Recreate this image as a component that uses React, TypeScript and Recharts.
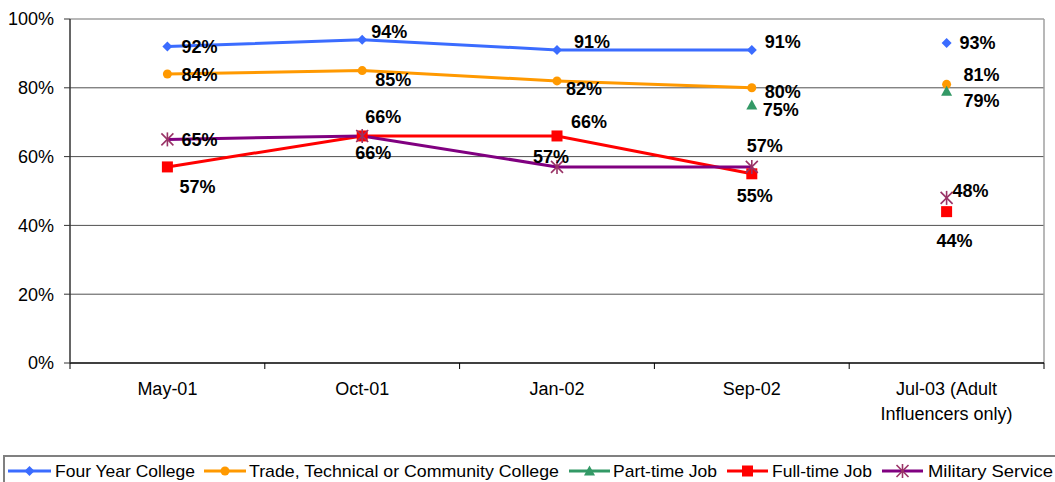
import React from 'react';
import { LineChart, Line, XAxis, YAxis, ReferenceLine, LabelList } from 'recharts';

// ---------- data ----------
const categories = ['May-01', 'Oct-01', 'Jan-02', 'Sep-02', 'Jul-03 (Adult\nInfluencers only)'];
const fourYearCollege = [92, 94, 91, 91, 93];
const tradeCollege = [84, 85, 82, 80, 81];
const partTimeJob: (number | null)[] = [null, null, null, 75, 79];
const fullTimeJob = [57, 66, 66, 55, 44];
const militaryService = [65, 66, 57, 57, 48];
const yTicks = [0, 20, 40, 60, 80, 100];
const gridValues = [20, 40, 60, 80];

// ---------- styling / layout ----------
const FONT = '"Liberation Sans", Arial, Helvetica, sans-serif';
const W = 1055;
const H = 482;
const ADULT_INDEX = 4;

type MarkerType = 'diamond' | 'circle' | 'triangle' | 'square' | 'star';

interface SeriesMeta {
  key: string;
  name: string;
  values: (number | null)[];
  color: string;
  markerColor: string;
  marker: MarkerType;
  labelOffsets: [number, number][];
}

const series: SeriesMeta[] = [
  {
    key: 'fourYear', name: 'Four Year College', values: fourYearCollege,
    color: '#3B6CFF', markerColor: '#3B6CFF', marker: 'diamond',
    labelOffsets: [[14, 0], [9, -8], [17, -8], [13, -8], [13, 0]],
  },
  {
    key: 'trade', name: 'Trade, Technical or Community College', values: tradeCollege,
    color: '#FF9900', markerColor: '#FF9900', marker: 'circle',
    labelOffsets: [[14, 1], [13, 9], [9, 8], [13, 4], [17, -9]],
  },
  {
    key: 'partTime', name: 'Part-time Job', values: partTimeJob,
    color: '#339966', markerColor: '#339966', marker: 'triangle',
    labelOffsets: [[11, 5], [11, 5], [11, 5], [11, 5], [17, 10]],
  },
  {
    key: 'fullTime', name: 'Full-time Job', values: fullTimeJob,
    color: '#FF0000', markerColor: '#FF0000', marker: 'square',
    labelOffsets: [[12, 20], [3, -19], [14, -14], [-15, 22], [-10, 29]],
  },
  {
    key: 'military', name: 'Military Service', values: militaryService,
    color: '#800080', markerColor: '#993366', marker: 'star',
    labelOffsets: [[14, 1], [-7, 17], [-24, -10], [-5, -21], [6, -7]],
  },
];

const legendLayout = [
  { line: [8, 51], text: 55, width: 140 },
  { line: [204, 246], text: 249, width: 310 },
  { line: [569, 610], text: 613, width: 104 },
  { line: [727, 768], text: 772, width: 100 },
  { line: [882, 923], text: 928, width: 125 },
];

// ---------- table built from the arrays ----------
const data = categories.map((cat, i) => {
  const row: Record<string, any> = { x: i, cat };
  series.forEach((s) => {
    const v = s.values[i];
    row[s.key] = i < ADULT_INDEX ? v : null;
    row[s.key + '_adult'] = i === ADULT_INDEX ? v : null;
  });
  return row;
});

const xTicks: number[] = [];
for (let i = -0.5; i <= categories.length - 0.5 + 1e-9; i += 0.5) xTicks.push(i);

// ---------- marks ----------
function Marker({ type, cx, cy, color }: { type: MarkerType; cx: number; cy: number; color: string }) {
  switch (type) {
    case 'diamond':
      return <polygon points={`${cx},${cy - 5} ${cx + 5},${cy} ${cx},${cy + 5} ${cx - 5},${cy}`} fill={color} />;
    case 'circle':
      return <circle cx={cx} cy={cy} r={4.5} fill={color} />;
    case 'triangle':
      return <polygon points={`${cx},${cy - 5.5} ${cx + 5.5},${cy + 4.5} ${cx - 5.5},${cy + 4.5}`} fill={color} />;
    case 'square':
      return <rect x={cx - 5.5} y={cy - 5.5} width={11} height={11} fill={color} />;
    case 'star':
      return (
        <g stroke={color} strokeWidth={1.6} fill="none">
          <line x1={cx} y1={cy - 7} x2={cx} y2={cy + 7} />
          <line x1={cx - 6} y1={cy - 6} x2={cx + 6} y2={cy + 6} />
          <line x1={cx - 6} y1={cy + 6} x2={cx + 6} y2={cy - 6} />
        </g>
      );
    default:
      return null;
  }
}

const makeDot = (s: SeriesMeta) => (props: any) => {
  const { cx, cy, index, value } = props;
  if (cx == null || cy == null || value == null || (Array.isArray(value) && value[1] == null)) {
    return <g key={`d-${s.key}-${index}`} />;
  }
  return (
    <g key={`d-${s.key}-${index}`}>
      <Marker type={s.marker} cx={cx} cy={cy} color={s.markerColor} />
    </g>
  );
};

const makeLabel = (s: SeriesMeta) => (props: any) => {
  const { value, index } = props;
  const x = props.x ?? props.viewBox?.x;
  const y = props.y ?? props.viewBox?.y;
  if (value == null || x == null || y == null) return null;
  const [dx, dy] = s.labelOffsets[index] || [10, 0];
  return (
    <text
      key={`l-${s.key}-${index}`}
      x={x + dx}
      y={y + dy}
      dominantBaseline="central"
      textAnchor="start"
      fontFamily={FONT}
      fontSize={18}
      fontWeight="bold"
      fill="#000"
    >
      {`${value}%`}
    </text>
  );
};

const XTick = (props: any) => {
  const { x, y, payload } = props;
  const v = payload.value as number;
  if (Math.abs(v - Math.round(v)) > 0.01) {
    return <line x1={x} y1={y} x2={x} y2={y + 6} stroke="#000" strokeWidth={1} />;
  }
  const lines = (categories[Math.round(v)] || '').split('\n');
  return (
    <g>
      {lines.map((t, i) => (
        <text key={i} x={x} y={y + 32 + i * 25} textAnchor="middle" fontFamily={FONT} fontSize={18} fill="#000">
          {t}
        </text>
      ))}
    </g>
  );
};

function LegendBox() {
  const cy = 471;
  return (
    <svg width={W} height={H} style={{ position: 'absolute', left: 0, top: 0, pointerEvents: 'none' }}>
      <rect x={4} y={456} width={W + 10} height={40} fill="none" stroke="#808080" strokeWidth={2} />
      {series.map((s, i) => {
        const l = legendLayout[i];
        const mid = (l.line[0] + l.line[1]) / 2;
        return (
          <g key={s.key}>
            <line x1={l.line[0]} y1={cy} x2={l.line[1]} y2={cy} stroke={s.color} strokeWidth={3} />
            <Marker type={s.marker} cx={mid} cy={cy} color={s.markerColor} />
            <text
              x={l.text}
              y={cy}
              dominantBaseline="central"
              fontFamily={FONT}
              fontSize={17}
              fill="#000"
              textLength={l.width}
              lengthAdjust="spacingAndGlyphs"
            >
              {s.name}
            </text>
          </g>
        );
      })}
    </svg>
  );
}

export default function App() {
  return (
    <div style={{ position: 'absolute', left: 0, top: 0, width: W, height: H, background: '#fff' }}>
      <LineChart width={W} height={H} data={data} margin={{ top: 19, right: 11, bottom: 59, left: 0 }}>
        {gridValues.map((g) => (
          <ReferenceLine key={g} y={g} stroke="#505050" strokeWidth={1} ifOverflow="visible" />
        ))}
        <ReferenceLine y={100} stroke="#a0a0a0" strokeWidth={1.5} ifOverflow="visible" />
        <ReferenceLine x={categories.length - 0.5} stroke="#a0a0a0" strokeWidth={1.5} ifOverflow="visible" />
        <XAxis
          dataKey="x"
          type="number"
          domain={[-0.5, categories.length - 0.5]}
          ticks={xTicks}
          interval={0}
          tick={<XTick />}
          tickLine={false}
          tickSize={0}
          tickMargin={0}
          height={60}
          axisLine={{ stroke: '#000', strokeWidth: 1.5 }}
        />
        <YAxis
          type="number"
          domain={[0, 100]}
          ticks={yTicks}
          interval={0}
          width={70}
          tickFormatter={(v: number) => `${v}%`}
          tick={{ fontSize: 18, fill: '#000', fontFamily: FONT }}
          tickSize={6}
          tickMargin={10}
          tickLine={{ stroke: '#333' }}
          axisLine={{ stroke: '#333', strokeWidth: 1.5 }}
        />
        {series.map((s) => (
          <Line
            key={s.key}
            dataKey={s.key}
            name={s.name}
            stroke={s.color}
            strokeWidth={3}
            dot={makeDot(s)}
            activeDot={false}
            isAnimationActive={false}
            connectNulls={false}
          >
            <LabelList dataKey={s.key} content={makeLabel(s)} />
          </Line>
        ))}
        {series.map((s) => (
          <Line
            key={s.key + '_adult'}
            dataKey={s.key + '_adult'}
            name={s.name + ' (adult)'}
            stroke={s.color}
            strokeWidth={3}
            dot={makeDot(s)}
            activeDot={false}
            legendType="none"
            isAnimationActive={false}
            connectNulls={false}
          >
            <LabelList dataKey={s.key + '_adult'} content={makeLabel(s)} />
          </Line>
        ))}
      </LineChart>
      <LegendBox />
    </div>
  );
}
